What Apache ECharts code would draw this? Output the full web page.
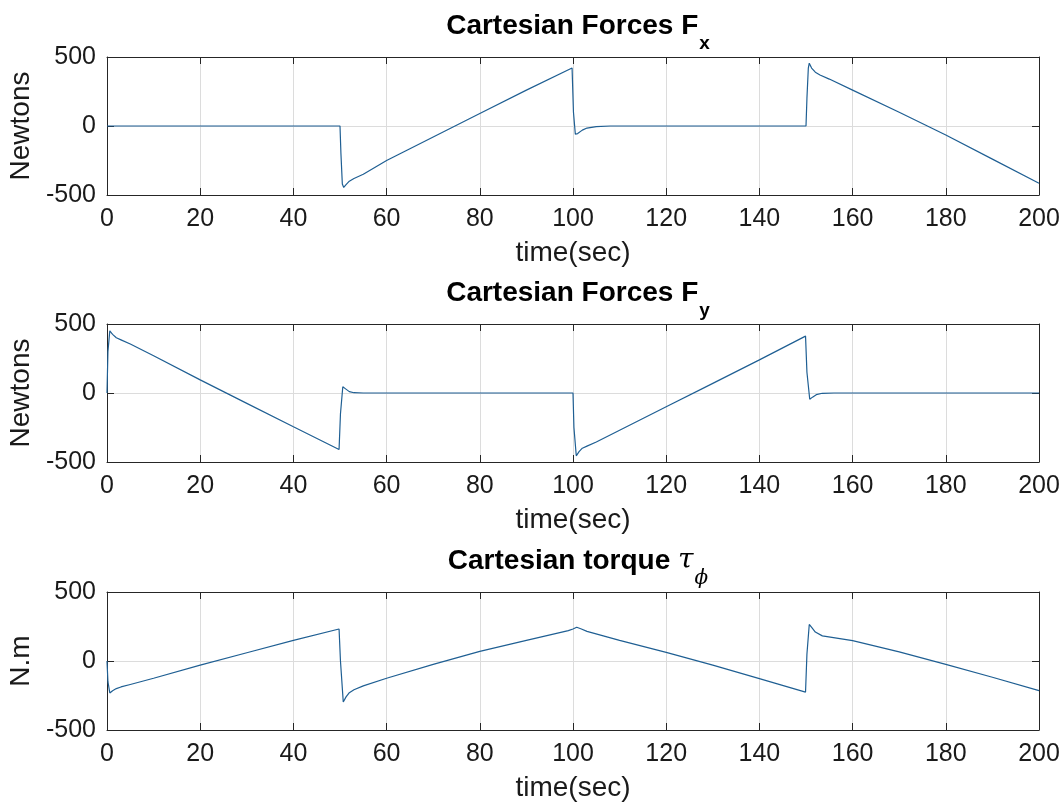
<!DOCTYPE html>
<html>
<head>
<meta charset="utf-8">
<title>Cartesian Forces and Torque</title>
<script src="https://cdn.jsdelivr.net/npm/echarts@6/dist/echarts.min.js"></script>
<style>
  html, body { margin: 0; padding: 0; background: #ffffff; }
  #chart { width: 1062px; height: 805px; }
</style>
</head>
<body>
<div id="chart"></div>
<script>
// ---- data: [time (s), value] samples read for each signal ----
const fxPoints = [
  [0, 0], [50, 0], [50.2, -200], [50.5, -420], [50.8, -445], [51.3, -425], [52, -400],
  [53, -380], [55, -350], [60, -250], [70, -80], [80, 90], [90, 260], [99.8, 420],
  [100.1, 100], [100.5, -60], [101, -55], [102, -30], [103, -15], [105, -5], [108, 0],
  [150, 0], [150.2, 200], [150.5, 420], [150.7, 455], [151.2, 420], [152, 390],
  [153, 370], [155, 340], [160, 260], [170, 100], [180, -65], [190, -240], [200, -415]
];
const fyPoints = [
  [0, 0], [0.2, 300], [0.6, 450], [1.2, 425], [2, 400], [3, 385], [5, 355], [10, 270],
  [20, 95], [30, -75], [40, -245], [49.8, -410], [50.1, -150], [50.6, 45], [51.2, 30],
  [52, 10], [53, 2], [55, 0], [100, 0], [100.2, -250], [100.7, -455], [101.3, -425],
  [102, -400], [103, -385], [105, -355], [110, -270], [120, -100], [130, 70], [140, 240],
  [149.9, 412], [150.2, 150], [150.8, -45], [151.4, -30], [152.2, -12], [153.5, -2],
  [156, 0], [200, 0]
];
const tauPoints = [
  [0, 0], [0.2, -150], [0.6, -232], [1.2, -215], [2, -200], [3, -188], [5, -170],
  [10, -125], [20, -30], [30, 60], [40, 150], [49.8, 232], [50.1, 0], [50.7, -297],
  [51.3, -260], [52, -230], [53, -208], [55, -180], [60, -125], [70, -25], [80, 70],
  [90, 150], [99, 220], [100, 232], [100.8, 245], [101.8, 232], [103, 215], [110, 150],
  [120, 62], [130, -30], [140, -128], [149.9, -225], [150.2, 50], [150.7, 265],
  [151.3, 240], [152, 210], [153.5, 182], [160, 148], [170, 66], [180, -25],
  [190, -118], [200, -215]
];

// axis ranges and tick steps
const timeRange = [0, 200];
const timeStep = 20;
const valueRange = [-500, 500];
const valueStep = 500;

// panel texts
const panelTitles = [
  '{m|Cartesian Forces F}{s|x}',
  '{m|Cartesian Forces F}{s|y}',
  '{m|Cartesian torque }{g|\u03C4}{gs|\u03D5}'
];
const yNames = ['Newtons', 'Newtons', 'N.m'];
const xName = 'time(sec)';

// ---- layout / style ----
const chart = echarts.init(document.getElementById('chart'), null, { renderer: 'canvas' });
const FONT = 'Liberation Sans, Arial, Helvetica, sans-serif';
const SERIF = 'DejaVu Serif, Liberation Serif, serif';
const INK = '#1a1a1a';
const AXIS = '#262626';
const GRIDC = '#dcdcdc';
const LINE = '#1f5f93';
const panelTops = [57, 324, 592];
const panelH = 138;
const gridLeft = 107;
const gridRight = 23;
const plotCenterX = 573;

const grids = [], xAxes = [], yAxes = [], series = [], titles = [];
const datasets = [fxPoints, fyPoints, tauPoints];

panelTops.forEach((top, i) => {
  grids.push({
    left: gridLeft, right: gridRight, top: top, height: panelH,
    containLabel: false, outerBoundsMode: 'none'
  });

  // bottom time axis with labels and grid lines
  xAxes.push({
    type: 'value', gridIndex: i, position: 'bottom',
    min: timeRange[0], max: timeRange[1], interval: timeStep,
    name: xName, nameLocation: 'middle', nameGap: 44,
    nameTextStyle: { fontFamily: FONT, fontSize: 28, color: INK },
    axisLine: { show: true, onZero: false, lineStyle: { color: AXIS, width: 1 } },
    axisTick: { show: true, inside: true, length: 7, lineStyle: { color: AXIS } },
    axisLabel: { fontFamily: FONT, fontSize: 25, color: INK, margin: 12 },
    splitLine: { show: true, lineStyle: { color: GRIDC, width: 1 } }
  });
  // top edge of the box
  xAxes.push({
    type: 'value', gridIndex: i, position: 'top',
    min: timeRange[0], max: timeRange[1], interval: timeStep,
    axisLine: { show: true, onZero: false, lineStyle: { color: AXIS, width: 1 } },
    axisTick: { show: true, inside: true, length: 7, lineStyle: { color: AXIS } },
    axisLabel: { show: false }, splitLine: { show: false }
  });
  // left value axis
  yAxes.push({
    type: 'value', gridIndex: i, position: 'left',
    min: valueRange[0], max: valueRange[1], interval: valueStep,
    name: yNames[i], nameLocation: 'middle', nameGap: 67, nameRotate: 90,
    nameTextStyle: { fontFamily: FONT, fontSize: 28, color: INK },
    axisLine: { show: true, onZero: false, lineStyle: { color: AXIS, width: 1 } },
    axisTick: { show: true, inside: true, length: 7, lineStyle: { color: AXIS } },
    axisLabel: { fontFamily: FONT, fontSize: 25, color: INK, margin: 11 },
    splitLine: { show: true, lineStyle: { color: GRIDC, width: 1 } }
  });
  // right edge of the box
  yAxes.push({
    type: 'value', gridIndex: i, position: 'right',
    min: valueRange[0], max: valueRange[1], interval: valueStep,
    axisLine: { show: true, onZero: false, lineStyle: { color: AXIS, width: 1 } },
    axisTick: { show: true, inside: true, length: 7, lineStyle: { color: AXIS } },
    axisLabel: { show: false }, splitLine: { show: false }
  });

  series.push({
    type: 'line', xAxisIndex: i * 2, yAxisIndex: i * 2,
    data: datasets[i], showSymbol: false, symbol: 'none', smooth: false,
    lineStyle: { color: LINE, width: 1.2 }, silent: true, animation: false
  });

  titles.push({
    text: panelTitles[i], left: plotCenterX, textAlign: 'center', top: top - 50,
    textStyle: {
      rich: {
        m: { fontFamily: FONT, fontSize: 28, fontWeight: 'bold', color: '#000', lineHeight: 30, verticalAlign: 'top' },
        s: { fontFamily: FONT, fontSize: 19, fontWeight: 'bold', color: '#000', lineHeight: 54, verticalAlign: 'top', padding: [22, 0, 0, 1] },
        g: { fontFamily: SERIF, fontStyle: 'italic', fontWeight: 'normal', fontSize: 28, color: '#000', lineHeight: 30, verticalAlign: 'top' },
        gs: { fontFamily: SERIF, fontStyle: 'italic', fontWeight: 'normal', fontSize: 20, color: '#000', lineHeight: 54, verticalAlign: 'top', padding: [22, 0, 0, 1] }
      }
    }
  });
});

chart.setOption({
  backgroundColor: '#ffffff',
  animation: false,
  title: titles,
  grid: grids,
  xAxis: xAxes,
  yAxis: yAxes,
  series: series
});
</script>
</body>
</html>
